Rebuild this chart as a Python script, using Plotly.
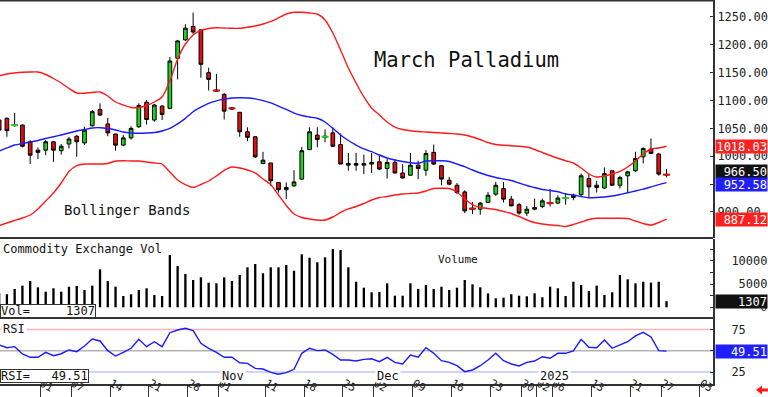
import plotly.graph_objects as go

# ---------------- data ----------------
dates = [
    "2024-09-23", "2024-09-24", "2024-09-25", "2024-09-26", "2024-09-27", "2024-09-30",
    "2024-10-01", "2024-10-02", "2024-10-03", "2024-10-04", "2024-10-07", "2024-10-08",
    "2024-10-09", "2024-10-10", "2024-10-11", "2024-10-14", "2024-10-15", "2024-10-16",
    "2024-10-17", "2024-10-18", "2024-10-21", "2024-10-22", "2024-10-23", "2024-10-24",
    "2024-10-25", "2024-10-28", "2024-10-29", "2024-10-30", "2024-10-31", "2024-11-01",
    "2024-11-04", "2024-11-05", "2024-11-06", "2024-11-07", "2024-11-08", "2024-11-11",
    "2024-11-12", "2024-11-13", "2024-11-14", "2024-11-15", "2024-11-18", "2024-11-19",
    "2024-11-20", "2024-11-21", "2024-11-22", "2024-11-25", "2024-11-26", "2024-11-27",
    "2024-11-29", "2024-12-02", "2024-12-03", "2024-12-04", "2024-12-05", "2024-12-06",
    "2024-12-09", "2024-12-10", "2024-12-11", "2024-12-12", "2024-12-13", "2024-12-16",
    "2024-12-17", "2024-12-18", "2024-12-19", "2024-12-20", "2024-12-23", "2024-12-24",
    "2024-12-26", "2024-12-27", "2024-12-30", "2024-12-31", "2025-01-02", "2025-01-03",
    "2025-01-06", "2025-01-07", "2025-01-08", "2025-01-09", "2025-01-10", "2025-01-13",
    "2025-01-14", "2025-01-15", "2025-01-16", "2025-01-17", "2025-01-21", "2025-01-22",
    "2025-01-23", "2025-01-24", "2025-01-27",
]
future_dates = ["2025-01-28", "2025-01-29", "2025-01-30", "2025-01-31", "2025-02-03"]

opens = [1065, 1068, 1055, 1056, 1026, 1011,
         1011, 1026, 1010, 1022, 1036, 1024, 1055, 1084, 1058, 1040,
         1020, 1033, 1053, 1097, 1065, 1090, 1086, 1176, 1209, 1233,
         1227, 1150, 1119, 1111, 1087, 1079, 1044, 1035, 987, 988,
         953, 940, 947, 959, 1012, 1038, 1034, 1042, 1021, 984,
         987, 984, 986, 990, 978, 989, 970, 966, 984, 975,
         1007, 983, 957, 948, 936, 907, 905, 917, 932, 942,
         923, 913, 898, 905, 910, 917, 916, 924, 926, 931,
         960, 948, 943, 974, 948, 965, 974, 999, 1013, 1004,
         967.5]
highs = [1070, 1070, 1078, 1057, 1029, 1016,
         1029, 1027, 1022, 1035, 1038, 1053, 1083, 1095, 1069, 1040,
         1038, 1054, 1095, 1101, 1094, 1092, 1178, 1209, 1237, 1258,
         1227, 1159, 1148, 1114, 1088, 1079, 1052, 1036, 1008, 988,
         954, 953, 975, 1017, 1052, 1052, 1048, 1052, 1041, 1006,
         1006, 1003, 1006, 1003, 995, 993, 986, 1006, 992, 1011,
         1021, 984, 963, 952, 939, 918, 918, 936, 954, 954,
         929, 916, 911, 924, 924, 941, 930, 933, 933, 969,
         969, 956, 980, 974, 965, 974, 1008, 1016, 1032, 1006,
         977]
lows = [1040, 1035, 1053, 1016, 986, 995,
        1002, 990, 1003, 1014, 999, 1020, 1053, 1072, 1036, 1010,
        1018, 1030, 1051, 1057, 1062, 1065, 1086, 1138, 1207, 1219,
        1141, 1118, 1116, 1066, 1083, 1035, 1027, 997, 986, 947,
        935, 923, 945, 957, 1011, 1016, 1025, 1018, 986, 974,
        974, 968, 970, 975, 960, 969, 960, 965, 959, 965,
        984, 948, 948, 932, 898, 896, 895, 916, 929, 917,
        910, 895, 893, 903, 907, 910, 914, 913, 921, 929,
        927, 935, 941, 947, 942, 934, 972, 987, 1004, 965,
        962]
closes = [1047, 1046, 1057, 1018, 1002, 1007,
          1026, 1011, 1018, 1031, 1026, 1047, 1080, 1074, 1042, 1020,
          1033, 1050, 1091, 1066, 1092, 1075, 1171, 1207, 1230, 1223,
          1165, 1138, 1117, 1081, 1085, 1044, 1034, 999, 993, 956,
          940, 944, 954, 1010, 1044, 1030, 1036, 1018, 986, 987,
          984, 987, 989, 977, 989, 970, 961, 984, 978, 1005,
          986, 959, 950, 935, 902, 905, 916, 930, 948, 923,
          911, 898, 905, 908, 920, 915, 925, 926, 930, 965,
          945, 944, 969, 948, 962, 972, 996, 1014, 1005, 968,
          966.5]

bb_upper = [1144.1, 1147.7, 1149.5, 1150.7, 1151.3, 1151.3,
            1146.8, 1139.6, 1131.5, 1121.7, 1113.6, 1113.0, 1114.5, 1115.4, 1108.2, 1097.4,
            1092.0, 1087.6, 1087.6, 1091.1, 1097.4, 1106.4, 1135.1, 1174.6, 1201.5, 1217.7,
            1225.8, 1229.4, 1230.8, 1230.3, 1229.7, 1229.7, 1231.5, 1233.8, 1237.4, 1241.6,
            1248.2, 1255.4, 1258.4, 1258.4, 1257.2, 1255.4, 1244.6, 1221.3, 1190.8, 1158.5,
            1131.5, 1106.4, 1086.7, 1074.1, 1061.5, 1052.5, 1048.1, 1045.9, 1044.5, 1043.6,
            1042.7, 1041.8, 1040.9, 1040.0, 1038.2, 1034.6, 1030.1, 1024.7, 1021.1, 1019.7,
            1019.0, 1018.1, 1016.6, 1012.2, 1006.8, 1001.4, 996.4, 991.9, 987.9, 979.0,
            968.2, 962.8, 964.6, 968.2, 972.7, 980.7, 991.5, 1004.1, 1013.1, 1014.9,
            1018.03]
bb_middle = [1009.5, 1014.9, 1020.2, 1022.9, 1025.6, 1028.3,
             1031.9, 1035.1, 1038.2, 1041.8, 1045.4, 1048.1, 1050.8, 1051.3, 1049.9, 1047.2,
             1043.6, 1041.8, 1041.2, 1041.8, 1042.7, 1045.4, 1050.0, 1058.0, 1068.0, 1080.0,
             1088.0, 1095.0, 1099.5, 1102.5, 1104.5, 1105.0, 1104.5, 1103.0, 1100.0, 1096.0,
             1090.0, 1084.0, 1077.5, 1073.2, 1070.5, 1068.2, 1061.5, 1050.2, 1038.2, 1028.3,
             1020.2, 1013.1, 1008.2, 1002.3, 996.9, 993.3, 990.6, 988.5, 987.4, 991.5,
             992.0, 992.0, 990.6, 986.1, 981.3, 975.4, 970.0, 965.5, 961.9, 959.2,
             956.5, 952.0, 947.5, 944.0, 940.4, 938.6, 936.4, 932.3, 930.5, 927.8,
             925.6, 925.9, 926.9, 928.7, 931.4, 934.6, 937.7, 941.0, 945.0, 949.0,
             952.58]
bb_lower = [875.7, 880.2, 884.7, 889.2, 894.6, 905.4,
            919.7, 934.1, 952.0, 972.7, 983.4, 986.1, 986.1, 986.1, 987.0, 991.5,
            992.0, 991.5, 991.5, 989.7, 987.9, 986.1, 971.8, 957.4, 949.3, 944.3,
            949.3, 955.6, 964.6, 974.5, 980.7, 979.0, 975.4, 970.0, 959.2, 949.3,
            930.5, 911.6, 896.4, 890.1, 887.4, 885.6, 885.6, 891.0, 899.1, 905.4,
            909.8, 915.2, 921.5, 926.0, 927.8, 930.5, 932.3, 933.2, 934.1, 937.7,
            942.2, 942.5, 942.2, 935.9, 923.3, 913.4, 908.1, 906.3, 904.5, 900.9,
            897.3, 891.9, 885.6, 881.1, 878.4, 876.6, 875.7, 873.9, 877.5, 882.0,
            886.5, 888.7, 888.7, 888.7, 888.7, 888.3, 883.8, 879.3, 876.6, 881.1,
            887.12]

volume = [3000, 2790, 3930, 4640, 5640, 4290,
          3350, 4080, 3350, 4420, 4570, 3710, 4640, 8150, 5640, 4420,
          2420, 2790, 3710, 4080, 2640, 2420, 11220, 8860, 7150, 5860,
          6440, 5280, 5150, 6440, 5640, 6930, 8580, 9290, 7300, 8580,
          8580, 9080, 7850, 11370, 10640, 9660, 10730, 12510, 12300, 8580,
          5490, 4210, 3220, 3300, 5150, 2490, 2490, 5150, 3930, 4790,
          3930, 4420, 3710, 4210, 5860, 4930, 4290, 3000, 1930, 2060,
          2790, 2490, 2360, 3000, 2150, 4420, 4080, 2420, 5490, 4790,
          3500, 4640, 2640, 3220, 6930, 6010, 5150, 5490, 5300, 5490,
          1307]

rsi = [56.8, 53.6, 54.8, 46.2, 42.3, 42.3,
       48.1, 44.2, 46.5, 50.9, 48.9, 55.6, 63.8, 61.5, 50.1, 43.8,
       48.1, 52.9, 63.5, 54.8, 60.6, 54.8, 71.2, 74.4, 76.4, 73.6,
       58.8, 52.9, 48.1, 42.3, 42.3, 35.9, 35.2, 29.3, 28.5, 24.6,
       22.3, 24.2, 28.2, 47.0, 52.9, 50.1, 50.9, 45.8, 39.1, 39.1,
       37.9, 39.9, 40.6, 37.1, 42.3, 36.4, 34.4, 45.0, 42.3, 53.6,
       47.0, 38.3, 36.4, 32.4, 25.4, 27.4, 32.4, 39.1, 47.0, 38.3,
       34.4, 32.1, 36.4, 37.9, 43.0, 41.1, 47.0, 47.0, 49.7, 63.5,
       54.1, 53.6, 62.6, 52.9, 56.8, 60.6, 67.4, 71.7, 66.2, 50.1,
       49.51]

tick_dates = ["2024-10-01", "2024-10-07", "2024-10-14", "2024-10-21", "2024-10-28",
              "2024-11-01", "2024-11-11", "2024-11-18", "2024-11-25", "2024-12-02",
              "2024-12-09", "2024-12-16", "2024-12-23", "2024-12-30", "2025-01-02",
              "2025-01-06", "2025-01-13", "2025-01-21", "2025-01-27", "2025-02-03"]
tick_text = ["01", "07", "14", "21", "28", "01", "11", "18", "25", "02",
             "09", "16", "23", "30", "02", "06", "13", "21", "27", "03"]
month_dates = ["2024-11-01", "2024-12-02", "2025-01-02"]
month_text = ["Nov", "Dec", "2025"]

price_ticks = [900, 950, 1000, 1050, 1100, 1150, 1200, 1250]
vol_ticks = [0, 2500, 5000, 7500, 10000, 12500]
vol_tick_text = ["\u00a0\u00a0\u00a0\u00a00", "", "\u00a05000", "", "10000", ""]
rsi_ticks = [25, 50, 75]
rsi_tick_text = ["25", "", "75"]

n = len(dates)
for arr in (opens, highs, lows, closes, bb_upper, bb_middle, bb_lower, volume, rsi):
    assert len(arr) == n, len(arr)

# ---------------- styling ----------------
MONO = "DejaVu Sans Mono, monospace"
GREEN = "#1ed21e"
RED = "#e01010"
BAND_RED = "#ff1a1a"
BLUE = "#1a1aff"
DARK = "#333333"

all_days = dates + future_dates
xpos = list(range(n))
TICK_SHIFT = -0.7
tickvals = [all_days.index(d) + TICK_SHIFT for d in tick_dates]

# panel geometry (plot area is 384 px tall)
PH = 384.0
P_LO = (PH - 238) / PH
V_LO, V_HI = (PH - 318) / PH, (PH - 239) / PH
R_HI = (PH - 318) / PH

fig = go.Figure()

fig.add_trace(go.Candlestick(
    x=xpos, open=opens, high=highs, low=lows, close=closes,
    increasing=dict(fillcolor=GREEN, line=dict(color="black", width=1)),
    decreasing=dict(fillcolor=RED, line=dict(color="black", width=1)),
    whiskerwidth=0, xaxis="x", yaxis="y", hoverinfo="skip"))

# doji candles are shown as a coloured dash in the reference
doji_x = [x for x, o, c in zip(xpos, opens, closes) if abs(o - c) <= 2.5]
doji_y = [(o + c) / 2 for o, c in zip(opens, closes) if abs(o - c) <= 2.5]
doji_c = [GREEN if c >= o else RED for o, c in zip(opens, closes) if abs(o - c) <= 2.5]
fig.add_trace(go.Scatter(x=doji_x, y=doji_y, mode="markers",
                         marker=dict(symbol="line-ew", size=5, color=doji_c,
                                     line=dict(color=doji_c, width=2)),
                         xaxis="x", yaxis="y", hoverinfo="skip"))

for band, col in ((bb_upper, BAND_RED), (bb_lower, BAND_RED), (bb_middle, BLUE)):
    fig.add_trace(go.Scatter(x=xpos, y=band, mode="lines",
                             line=dict(color=col, width=1.4, shape="spline", smoothing=0.6),
                             xaxis="x", yaxis="y", hoverinfo="skip"))

fig.add_trace(go.Bar(x=xpos, y=volume, width=0.3, marker=dict(color="black", line=dict(width=0)),
                     xaxis="x", yaxis="y2", hoverinfo="skip"))

fig.add_trace(go.Scatter(x=xpos, y=rsi, mode="lines",
                         line=dict(color=BLUE, width=1.4),
                         xaxis="x", yaxis="y3", hoverinfo="skip"))

x_lo = (0 - 45.7) / 7.76 + 6
x_hi = (713 - 45.7) / 7.76 + 6

axis_common = dict(showgrid=False, zeroline=False, showline=True, linecolor=DARK, linewidth=2,
                   side="right", anchor="x", fixedrange=True,
                   tickfont=dict(family=MONO, size=12, color="#222222"),
                   ticks="inside", ticklen=3, tickcolor=DARK)

fig.update_layout(
    width=768, height=397,
    margin=dict(l=0, r=55, t=0, b=13, autoexpand=False),
    paper_bgcolor="white", plot_bgcolor="white",
    showlegend=False, boxgap=0.32,
    xaxis=dict(domain=[0, 1], anchor="y3", range=[x_lo, x_hi],
               tickmode="array", tickvals=tickvals, ticktext=tick_text,
               ticks="outside", ticklen=13, tickwidth=1, tickcolor=DARK,
               ticklabelposition="outside right", ticklabelstandoff=-13,
               ticklabeloverflow="allow",
               tickfont=dict(family=MONO, size=11, color="#222222"),
               showgrid=False, zeroline=False, showline=True, linecolor=DARK, linewidth=2,
               rangeslider=dict(visible=False), fixedrange=True),
    yaxis=dict(domain=[P_LO, 1], range=[853.3, 1280.5],
               tickmode="array", tickvals=price_ticks,
               ticktext=["%.2f" % v for v in price_ticks], **axis_common),
    yaxis2=dict(domain=[V_LO, V_HI], range=[-2300, 14660],
                tickmode="array", tickvals=vol_ticks, ticktext=vol_tick_text,
                ticklabelstandoff=14, **axis_common),
    yaxis3=dict(domain=[0, R_HI], range=[10.9, 88.5],
                tickmode="array", tickvals=rsi_ticks, ticktext=rsi_tick_text,
                ticklabelstandoff=14, **axis_common),
)

# panel separators / frame
for yy, w in ((1.0, 3), (P_LO, 2), (R_HI, 2)):
    fig.add_shape(type="line", xref="paper", yref="paper", x0=0, x1=1, y0=yy, y1=yy,
                  line=dict(color=DARK, width=w), layer="above")

# RSI reference lines
for lvl, col in ((75, "#ffb4b4"), (50, "#b4b4b4"), (25, "#c4c4ff")):
    fig.add_shape(type="line", xref="paper", yref="y3", x0=0, x1=1, y0=lvl, y1=lvl,
                  line=dict(color=col, width=1.5), layer="below")


def px_x(px):
    return px / 713.0


def px_y(py):
    return (PH - py) / PH


# red arrow at bottom right
arrow = [(756, 390), (762, 385.5), (762, 388.5), (768, 388.5), (768, 391.5), (762, 391.5), (762, 394.5)]
path = "M " + " L ".join("%.4f,%.4f" % (px_x(a), px_y(b)) for a, b in arrow) + " Z"
fig.add_shape(type="path", xref="paper", yref="paper", path=path,
              fillcolor="#ff1a1a", line=dict(color="#ff1a1a", width=0))


# ---------------- texts ----------------
def txt(text, x, y, size, xanchor="left", yanchor="middle", xref="paper", yref="paper", **kw):
    fig.add_annotation(text=text, x=x, y=y, xref=xref, yref=yref, xanchor=xanchor,
                       yanchor=yanchor, showarrow=False,
                       font=dict(family=MONO, size=size, color=kw.pop("color", "#111111")), **kw)


txt("March Palladium", px_x(466), px_y(60), 20.5, xanchor="center")
txt("Bollinger Bands", px_x(62), px_y(210), 14)
txt("Commodity Exchange Vol", px_x(1), V_HI, 12, yanchor="top", yshift=-1)
txt("Volume", px_x(458), px_y(259), 11, xanchor="center")
txt("RSI", px_x(1), R_HI, 12, yanchor="top", yshift=-2, bgcolor="white")

# left value boxes
txt("Vol=" + "\u00a0" * 5 + "%d" % volume[-1], 0, V_LO, 12, yanchor="bottom",
    bgcolor="white", bordercolor=DARK, borderwidth=1, borderpad=0, height=12)
txt("RSI=" + "\u00a0" * 3 + "%.2f" % rsi[-1], 0, 0, 12, yanchor="bottom",
    bgcolor="white", bordercolor=DARK, borderwidth=1, borderpad=0, height=12, yshift=1)

# month labels along the bottom of the RSI panel
for d, t in zip(month_dates, month_text):
    txt(t, all_days.index(d) + TICK_SHIFT, 0, 12, xref="x", yanchor="bottom",
        bgcolor="white", xshift=1, yshift=1, height=11)


# right-hand value boxes
def value_box(val, text, yref, bg, yshift=0):
    fig.add_annotation(text=text, x=1, xref="paper", xanchor="left", xshift=2,
                       y=val, yref=yref, yanchor="middle", yshift=yshift,
                       showarrow=False, align="right", width=51, height=13,
                       borderpad=0, bgcolor=bg,
                       font=dict(family=MONO, size=12, color="white"))


value_box(bb_upper[-1], "%.2f" % bb_upper[-1], "y", "#ff2020")
value_box(closes[-1], "%.2f" % closes[-1], "y", "#111111", yshift=3)
value_box(bb_middle[-1], "%.2f" % bb_middle[-1], "y", "#2020ff", yshift=-2)
value_box(bb_lower[-1], "%.2f" % bb_lower[-1], "y", "#ff2020")
value_box(volume[-1], "%d" % volume[-1], "y2", "#111111")
value_box(rsi[-1], "%.2f" % rsi[-1], "y3", "#2020ff")

fig.write_html("out.html",
               config={"displayModeBar": False, "staticPlot": True},
               post_script="document.body.style.margin='0';document.body.style.padding='0';"
                           "document.body.style.overflow='hidden';")
